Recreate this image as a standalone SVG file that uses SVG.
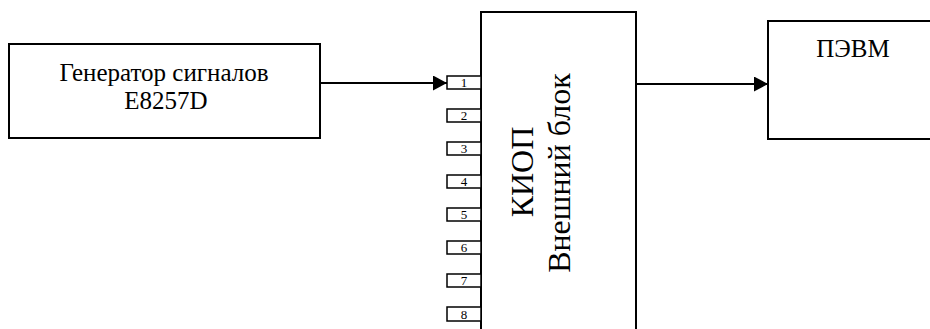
<svg xmlns="http://www.w3.org/2000/svg" width="930" height="329" viewBox="0 0 930 329">
  <style>
    .box { fill: #fff; stroke: #000; stroke-width: 2; }
    .port { fill: #fff; stroke: #000; stroke-width: 1.5; }
    .t { font-family: "Liberation Serif", "Times New Roman", serif; fill: #000; }
    .lbl { font-size: 25px; text-anchor: middle; }
    .num { font-size: 13px; text-anchor: middle; }
    .vt { font-size: 32px; text-anchor: middle; }
    .wire { stroke: #000; stroke-width: 2; fill: none; }
  </style>
  <defs>
    <marker id="arr" viewBox="0 0 14 15" refX="14" refY="7.5" markerWidth="14" markerHeight="15" markerUnits="userSpaceOnUse" orient="auto">
      <path d="M0,0 L14,7.5 L0,15 Z" fill="#000"/>
    </marker>
  </defs>
  <rect width="930" height="329" fill="#fff"/>

  <g id="generator">
    <rect class="box" x="9" y="44" width="311" height="94"/>
    <text class="t lbl" x="164" y="81">Генератор сигналов</text>
    <text class="t lbl" x="166" y="108.5">E8257D</text>
  </g>

  <g id="kiop">
    <rect class="box" x="481" y="12" width="155" height="330"/>
    <text class="t vt" transform="translate(533,172) rotate(-90)">КИОП</text>
    <text class="t vt" transform="translate(570,173) rotate(-90)">Внешний блок</text>
  </g>

  <g id="ports">
    <g id="port1"><rect class="port" x="447" y="76" width="34" height="13"/><text class="t num" x="464" y="87">1</text></g>
    <g id="port2"><rect class="port" x="447" y="109" width="34" height="13"/><text class="t num" x="464" y="120">2</text></g>
    <g id="port3"><rect class="port" x="447" y="142" width="34" height="13"/><text class="t num" x="464" y="153">3</text></g>
    <g id="port4"><rect class="port" x="447" y="175" width="34" height="13"/><text class="t num" x="464" y="186">4</text></g>
    <g id="port5"><rect class="port" x="447" y="208" width="34" height="13"/><text class="t num" x="464" y="219">5</text></g>
    <g id="port6"><rect class="port" x="447" y="241" width="34" height="13"/><text class="t num" x="464" y="252">6</text></g>
    <g id="port7"><rect class="port" x="447" y="274" width="34" height="13"/><text class="t num" x="464" y="285">7</text></g>
    <g id="port8"><rect class="port" x="447" y="307" width="34" height="14"/><text class="t num" x="464" y="318.5">8</text></g>
  </g>

  <g id="pevm">
    <rect class="box" x="768" y="21" width="180" height="118"/>
    <text class="t lbl" x="853" y="57">ПЭВМ</text>
  </g>

  <g id="connectors">
    <line class="wire" x1="320" y1="83" x2="447" y2="83" marker-end="url(#arr)"/>
    <line class="wire" x1="636" y1="84" x2="768" y2="84" marker-end="url(#arr)"/>
  </g>
</svg>
